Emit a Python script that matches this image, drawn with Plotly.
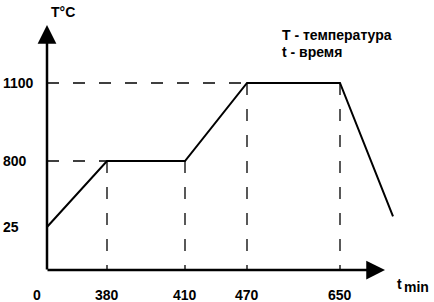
import numpy as np
import plotly.graph_objects as go

# ---- data ----
time_ticks = [0, 380, 410, 470, 650]          # min
temp_ticks = [25, 800, 1100]                  # °C
t_min = [0, 380, 410, 470, 650, 700]          # heating / holding / cooling schedule
T_c = [25, 800, 800, 1100, 1100, 150]

# schematic (non-proportional) scales of the drawing: value -> axis position
x_scale_vals = [0, 380, 410, 470, 650, 700]
x_scale_pos = [0, 60, 138, 200, 293, 346]
y_scale_vals = [0, 25, 800, 1100]
y_scale_pos = [0, 43, 109, 187]


def xs(v):
    return np.interp(v, x_scale_vals, x_scale_pos)


def ys(v):
    return np.interp(v, y_scale_vals, y_scale_pos)


FONT = "Liberation Sans, Arial, sans-serif"
fig = go.Figure()

# dashed guide lines
dash = dict(color="black", width=1.3, dash="12px,14px")
for t, T in zip(t_min[1:5], T_c[1:5]):
    fig.add_trace(go.Scatter(x=[xs(t), xs(t)], y=[ys(T), 0], mode="lines",
                             line=dash, hoverinfo="skip"))
fig.add_trace(go.Scatter(x=[0, xs(380)], y=[ys(800), ys(800)], mode="lines",
                         line=dash, hoverinfo="skip"))
fig.add_trace(go.Scatter(x=[0, xs(470)], y=[ys(1100), ys(1100)], mode="lines",
                         line=dash, hoverinfo="skip"))

# main temperature curve
fig.add_trace(go.Scatter(x=xs(t_min), y=ys(T_c), mode="lines",
                         line=dict(color="black", width=2), hoverinfo="skip"))

ann = []
# axes with arrows
ann.append(dict(x=0, y=245, ax=0, ay=-1, xref="x", yref="y", axref="x", ayref="y",
                showarrow=True, arrowhead=2, arrowsize=1.5, arrowwidth=2.5,
                arrowcolor="black", text=""))
ann.append(dict(x=338, y=0, ax=-1, ay=0, xref="x", yref="y", axref="x", ayref="y",
                showarrow=True, arrowhead=2, arrowsize=1.5, arrowwidth=2.5,
                arrowcolor="black", text=""))

tick_font = dict(family=FONT, size=14, color="black")
for T in temp_ticks:
    ann.append(dict(x=-46, y=ys(T), xref="x", yref="y", xanchor="left",
                    yanchor="middle", showarrow=False, text=f"<b>{T}</b>", font=tick_font))
for t in time_ticks:
    ann.append(dict(x=xs(t), y=0, xref="x", yref="y", yshift=-25,
                    xshift=-10 if t == 0 else 0, xanchor="center",
                    yanchor="middle", showarrow=False, text=f"<b>{t}</b>", font=tick_font))

ann.append(dict(x=16, y=258, xref="x", yref="y", xanchor="center", yanchor="middle",
                showarrow=False, text="<b>T°C</b>",
                font=dict(family=FONT, size=14, color="black")))
ann.append(dict(x=348, y=-14, xref="x", yref="y", xanchor="left", yanchor="middle",
                showarrow=False, text="<b>t</b>",
                font=dict(family=FONT, size=14, color="black")))
ann.append(dict(x=355, y=-17, xref="x", yref="y", xanchor="left", yanchor="middle",
                showarrow=False, text="<b>min</b>",
                font=dict(family=FONT, size=14, color="black")))
ann.append(dict(x=233, y=235, xref="x", yref="y", xanchor="left", yanchor="middle",
                showarrow=False, text="<b>T - температура</b>",
                font=dict(family=FONT, size=14, color="black")))
ann.append(dict(x=233, y=218, xref="x", yref="y", xanchor="left", yanchor="middle",
                showarrow=False, text="<b>t - время</b>",
                font=dict(family=FONT, size=14, color="black")))

# axis units = pixels relative to the drawn origin; margins 0 so nothing is hidden
fig.update_layout(
    width=434, height=302,
    margin=dict(l=0, r=0, t=0, b=0),
    paper_bgcolor="white", plot_bgcolor="white",
    showlegend=False,
    annotations=ann,
    xaxis=dict(range=[-47, 387], visible=False, fixedrange=True),
    yaxis=dict(range=[-32, 270], visible=False, fixedrange=True),
)

fig.write_html("out.html", config={"displayModeBar": False},
               post_script="document.body.style.margin='0';")
